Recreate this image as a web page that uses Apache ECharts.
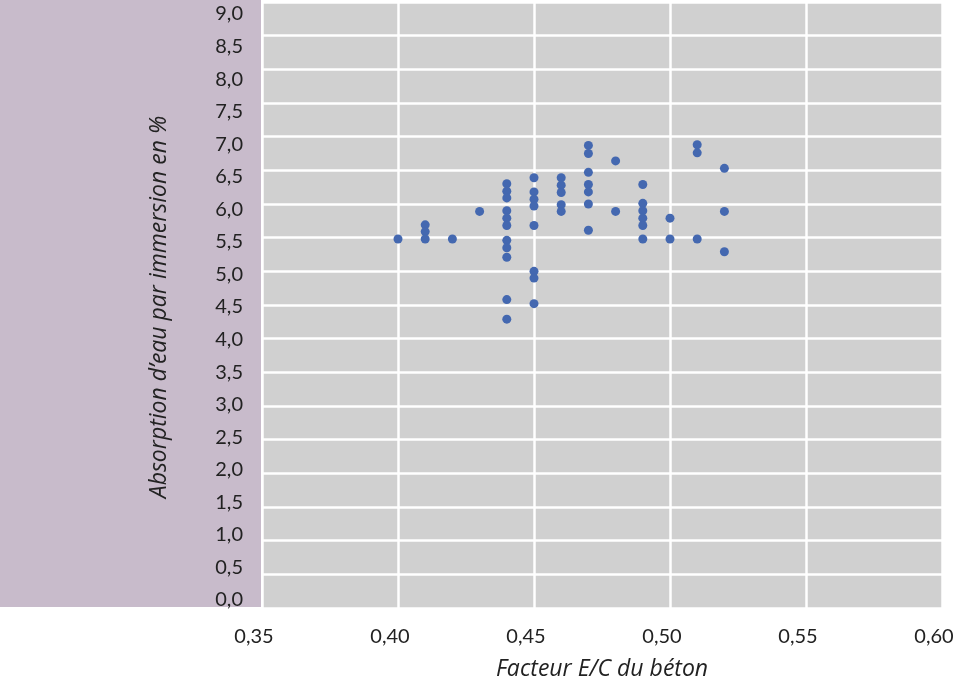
<!DOCTYPE html>
<html>
<head>
<meta charset="utf-8">
<script src="https://cdn.jsdelivr.net/npm/echarts@6/dist/echarts.min.js"></script>
<style>
html,body{margin:0;padding:0;background:#fff;}
#chart{width:979px;height:687px;}
</style>
</head>
<body>
<div id="chart"></div>
<script>
// E/C ratio groups and the absorption values (%) measured at each ratio
const ecRatios = [0.40, 0.41, 0.42, 0.43, 0.44, 0.45, 0.46, 0.47, 0.48, 0.49, 0.50, 0.51, 0.52];
const absorption = [
  [5.48],
  [5.69, 5.59, 5.48],
  [5.48],
  [5.89],
  [6.30, 6.19, 6.09, 5.90, 5.79, 5.68, 5.46, 5.35, 5.21, 4.58, 4.29],
  [6.39, 6.18, 6.07, 5.97, 5.68, 5.00, 4.90, 4.52],
  [6.39, 6.28, 6.17, 5.99, 5.89],
  [6.87, 6.75, 6.47, 6.29, 6.18, 6.00, 5.61],
  [6.64, 5.89],
  [6.29, 6.01, 5.90, 5.79, 5.68, 5.48],
  [5.79, 5.48],
  [6.88, 6.76, 5.48],
  [6.53, 5.89, 5.29]
];
const xTitle = 'Facteur E/C du béton';
const yTitle = 'Absorption d\u2019eau par immersion en %';

const points = [];
ecRatios.forEach((x, i) => absorption[i].forEach(v => points.push([x, v])));

const FONT = 'Lato';
const TFONT = 'Open Sans';
const chart = echarts.init(document.getElementById('chart'), null, {renderer: 'canvas'});
chart.setOption({
  animation: false,
  backgroundColor: '#ffffff',
  graphic: [{
    type: 'rect', left: 0, top: 0, z: -10,
    shape: {width: 261, height: 607},
    style: {fill: '#C8BBCB'}
  }],
  grid: [
    {left: 262, right: 37, top: 2, bottom: 79, show: true, backgroundColor: '#D0D0D0', borderWidth: 0},
    {left: 262, right: 37, top: 14, bottom: 87, show: false}
  ],
  xAxis: [{
    gridIndex: 0, type: 'value', min: 0.35, max: 0.60, interval: 0.05,
    name: xTitle, nameLocation: 'middle', nameGap: 50,
    nameTextStyle: {fontFamily: TFONT, fontStyle: 'italic', fontSize: 23, color: '#222'},
    axisLine: {show: false}, axisTick: {show: false},
    axisLabel: {
      fontFamily: FONT, fontSize: 20, color: '#222', margin: 19,
      padding: [0, 16, 0, 0],
      formatter: v => v.toFixed(2).replace('.', ',')
    },
    splitLine: {show: true, lineStyle: {color: '#ffffff', width: 2.5}}
  }, {
    gridIndex: 1, type: 'value', min: 0.35, max: 0.60, show: false
  }],
  yAxis: [{
    gridIndex: 0, type: 'value', min: 0, max: 9, interval: 0.5,
    axisLine: {show: false}, axisTick: {show: false}, axisLabel: {show: false},
    splitLine: {show: true, lineStyle: {color: '#ffffff', width: 2.5}}
  }, {
    gridIndex: 1, type: 'value', min: 0, max: 9, interval: 0.5,
    name: yTitle, nameLocation: 'middle', nameGap: 91,
    nameTextStyle: {fontFamily: TFONT, fontStyle: 'italic', fontSize: 23, color: '#222'},
    axisLine: {show: false}, axisTick: {show: false}, splitLine: {show: false},
    axisLabel: {
      fontFamily: FONT, fontSize: 20, color: '#222', margin: 19,
      formatter: v => v.toFixed(1).replace('.', ',')
    }
  }],
  series: [{
    type: 'scatter', xAxisIndex: 0, yAxisIndex: 0,
    data: points, symbolSize: 9,
    itemStyle: {color: '#4468B0', opacity: 1}
  }]
});
</script>
</body>
</html>
